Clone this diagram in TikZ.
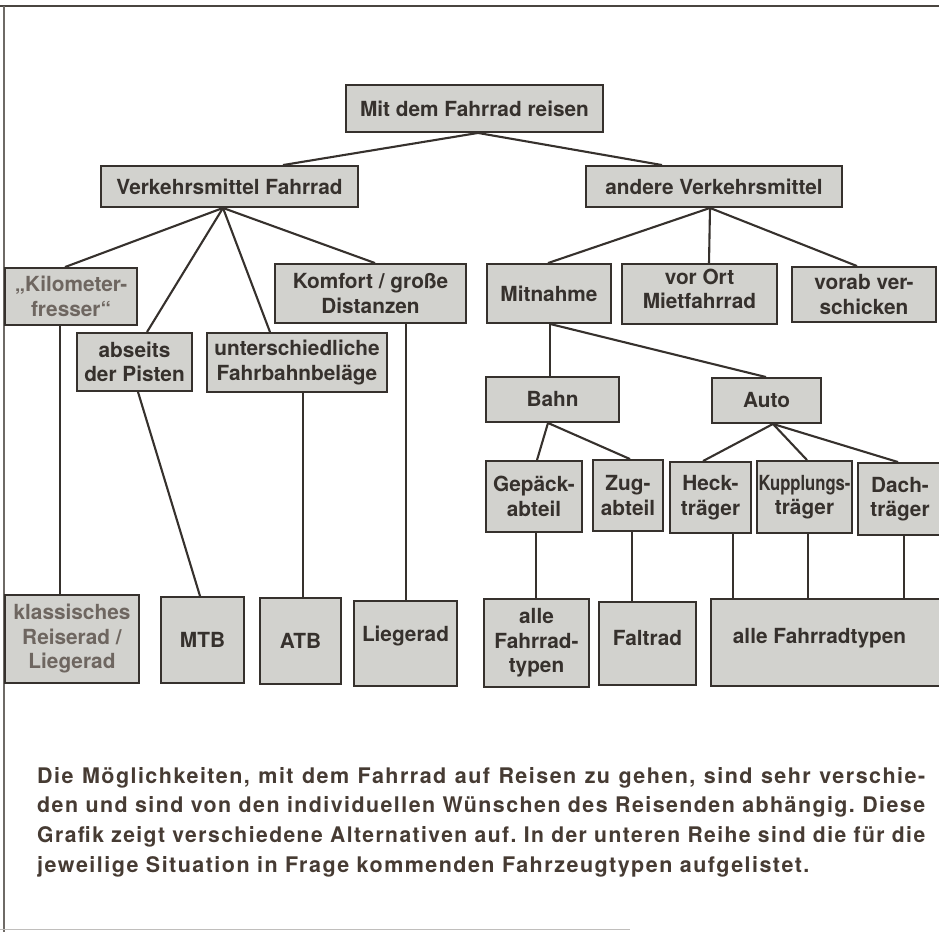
\documentclass[tikz,border=0pt]{standalone}
\usepackage{fontspec}
\usepackage{graphicx}
\setmainfont{TeX Gyre Heros}
\newfontfamily\capfont[LetterSpace=6.8]{TeX Gyre Heros}
\definecolor{boxfill}{HTML}{D2D2CE}
\definecolor{ink}{HTML}{36312D}
\definecolor{fade}{HTML}{6E6660}
\definecolor{captxt}{HTML}{463B33}
\definecolor{framec}{HTML}{4A4540}
\newsavebox\caplinebox
\newcommand\capline[1]{\sbox\caplinebox{#1}%
  \ifdim\wd\caplinebox>888pt \resizebox{888pt}{\height}{#1}\else\makebox[888pt][s]{#1}\fi}
\tikzset{
  box/.style={draw=ink, fill=boxfill, line width=1.9pt, inner sep=0pt, align=center,
    text=ink, font=\bfseries\fontsize{20.8}{24.5}\selectfont},
  boxtext/.style={inner sep=0pt, align=center, text=ink, font=\bfseries\fontsize{20.8}{24.5}\selectfont},
  link/.style={draw=ink, line width=2.1pt},
}
\newcommand\mkbox[7][]{%
  \node[box,#1,minimum width={(#5-#3)*1pt},minimum height={(#6-#4)*1pt}]
    (#2) at ({(#3+#5)/2},{(#4+#6)/2}) {#7};}
\begin{document}
\begin{tikzpicture}[x=1pt,y=-1pt]
\useasboundingbox (0,0) rectangle (939,932);
\clip (0,0) rectangle (939,932);
% frame
\draw[framec, line width=2.4pt] (0,6) -- (939,6);
\draw[framec!80, line width=1.4pt] (4,6) -- (4,932);
\draw[framec!35, line width=1pt] (0,929) -- (630,929);
% boxes
\mkbox{root}{346}{85}{603}{132}{Mit dem Fahrrad reisen}
\mkbox{vf}{101}{166}{358}{207}{Verkehrsmittel Fahrrad}
\mkbox{av}{586}{166}{842}{207}{andere Verkehrsmittel}
\mkbox[text=fade]{kilo}{5}{268}{137}{325}{„Kilometer-\\fresser“}
\mkbox{abseits}{77}{333}{192}{391}{abseits\\der Pisten}
\mkbox{unter}{207}{333}{387}{392}{unterschiedliche\\Fahrbahnbeläge}
\mkbox{komfort}{275}{264}{466}{323}{Komfort / große\\Distanzen}
\mkbox{mitnahme}{487}{264}{611}{323}{Mitnahme}
\mkbox{vorort}{622}{264}{777}{324}{}
\mkbox{vorab}{792}{267}{936}{322}{vorab ver-\\schicken}
\mkbox{bahn}{486}{377}{619}{422}{Bahn}
\mkbox{auto}{712}{378}{821}{423}{Auto}
\mkbox{gep}{486}{461}{582}{532}{Gepäck-\\abteil}
\mkbox{zug}{593}{460}{663}{531}{Zug-\\abteil}
\mkbox{heck}{670}{462}{751}{533}{Heck-\\träger}
\mkbox{kupp}{757}{461}{852}{533}{\scalebox{0.8}[1]{Kupplungs-}\\träger}
\mkbox{dach}{858}{463}{942}{535}{Dach-\\träger}
\mkbox[text=fade]{klass}{5}{595}{139}{683}{klassisches\\Reiserad /\\Liegerad}
\mkbox{mtb}{161}{597}{244}{683}{MTB}
\mkbox{atb}{260}{598}{341}{684}{ATB}
\mkbox{liegerad}{354}{601}{457}{686}{}
\mkbox{alle1}{484}{599}{589}{687}{alle\\Fahrrad-\\typen}
\mkbox{faltrad}{599}{602}{696}{685}{}
\mkbox{alle2}{711}{599}{960}{686}{}
\node[boxtext] (vorortt) at (699.5,289) {vor Ort\\Mietfahrrad};
\node[boxtext] (liegeradt) at (405.5,636) {Liegerad};
\node[boxtext] (faltradt) at (647.5,638) {Faltrad};
\node[boxtext] (alle2t) at (819.5,638) {alle Fahrradtypen};
% connectors
\draw[link] ([xshift=3.5pt]root.south) -- ([xshift=53.5pt]vf.north);
\draw[link] ([xshift=3.5pt]root.south) -- ([xshift=-52pt]av.north);
\draw[link] ([xshift=-6.5pt]vf.south) -- ([xshift=-6pt]kilo.north);
\draw[link] ([xshift=-6.5pt]vf.south) -- ([xshift=12.5pt]abseits.north);
\draw[link] ([xshift=-6.5pt]vf.south) -- ([xshift=-27pt]unter.north);
\draw[link] ([xshift=-6.5pt]vf.south) -- ([xshift=4.5pt]komfort.north);
\draw[link] ([xshift=-4pt]av.south) -- ([xshift=-1pt]mitnahme.north);
\draw[link] ([xshift=-4pt]av.south) -- ([xshift=9.5pt]vorort.north);
\draw[link] ([xshift=-4pt]av.south) -- ([xshift=-7pt]vorab.north);
\draw[link] ([xshift=-11pt]kilo.south) -- ([xshift=-11pt]kilo.south |- klass.north);
\draw[link] ([xshift=3.5pt]abseits.south) -- ([xshift=-2.5pt]mtb.north);
\draw[link] ([xshift=6pt]unter.south) -- ([xshift=6pt]unter.south |- atb.north);
\draw[link] ([xshift=35.5pt]komfort.south) -- ([xshift=35.5pt]komfort.south |- liegerad.north);
\draw[link] ([xshift=1pt]mitnahme.south) -- ([xshift=1pt]mitnahme.south |- bahn.north);
\draw[link] ([xshift=1pt]mitnahme.south) -- ([xshift=-0.5pt]auto.north);
\draw[link] ([xshift=-4.5pt]bahn.south) -- ([xshift=3pt]gep.north);
\draw[link] ([xshift=-4.5pt]bahn.south) -- ([xshift=2pt]zug.north);
\draw[link] ([xshift=6.5pt]auto.south) -- ([xshift=-7.5pt]heck.north);
\draw[link] ([xshift=6.5pt]auto.south) -- ([xshift=2.5pt]kupp.north);
\draw[link] ([xshift=6.5pt]auto.south) -- ([xshift=-2pt]dach.north);
\draw[link] ([xshift=2pt]gep.south) -- ([xshift=2pt]gep.south |- alle1.north);
\draw[link] ([xshift=4pt]zug.south) -- ([xshift=4pt]zug.south |- faltrad.north);
\draw[link] ([xshift=22.5pt]heck.south) -- ([xshift=22.5pt]heck.south |- alle2.north);
\draw[link] ([xshift=3.5pt]kupp.south) -- ([xshift=3.5pt]kupp.south |- alle2.north);
\draw[link] ([xshift=4pt]dach.south) -- ([xshift=4pt]dach.south |- alle2.north);
% caption
\node[anchor=base west, inner sep=0pt, text=captxt] (cap) at (37,783)
  {\parbox[t]{888pt}{\capfont\bfseries\fontsize{21.5}{29.7}\selectfont\frenchspacing
  \capline{Die Möglichkeiten, mit dem Fahrrad auf Reisen zu gehen, sind sehr verschie-}\\
  \capline{den und sind von den individuellen Wünschen des Reisenden abhängig. Diese}\\
  \capline{Grafik zeigt verschiedene Alternativen auf. In der unteren Reihe sind die für die}\\
  jeweilige Situation in Frage kommenden Fahrzeugtypen aufgelistet.}};
\end{tikzpicture}
\end{document}
